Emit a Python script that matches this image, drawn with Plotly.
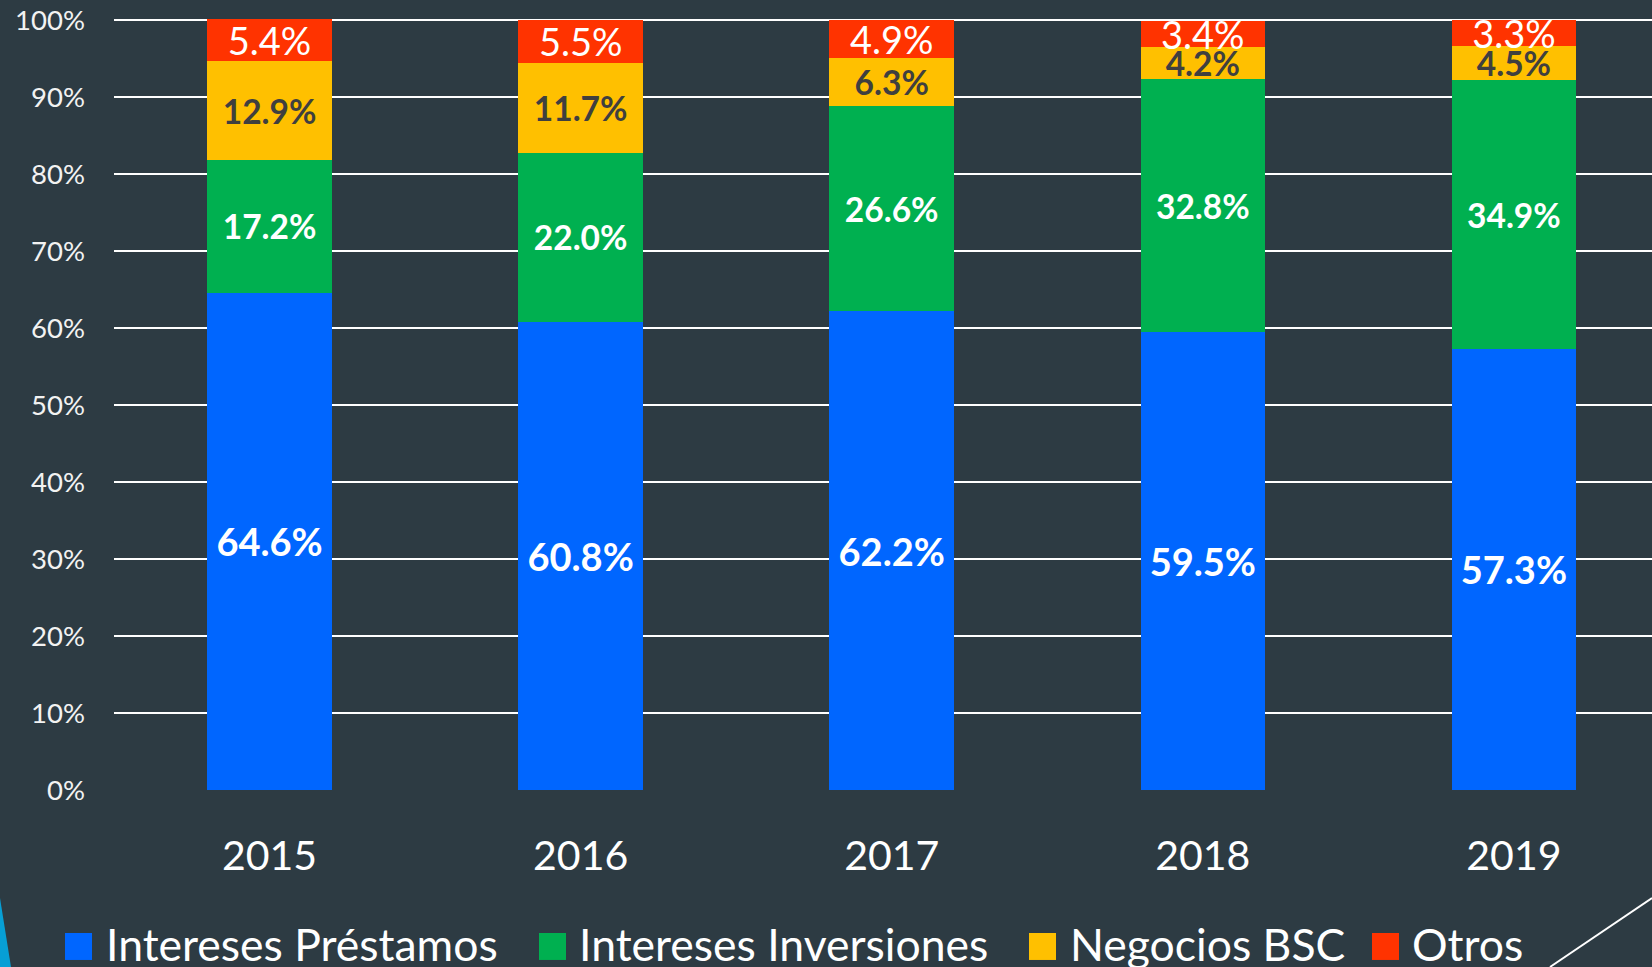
import plotly.graph_objects as go

# ---- data ----
years = ["2015", "2016", "2017", "2018", "2019"]
series_names = ["Intereses Préstamos", "Intereses Inversiones", "Negocios BSC", "Otros"]
prestamos = [64.6, 60.8, 62.2, 59.5, 57.3]
inversiones = [17.2, 22.0, 26.6, 32.8, 34.9]
negocios = [12.9, 11.7, 6.3, 4.2, 4.5]
otros = [5.4, 5.5, 4.9, 3.4, 3.3]
y_ticks = [0, 10, 20, 30, 40, 50, 60, 70, 80, 90, 100]
y_tick_text = [f"{v}%" for v in y_ticks]

series_values = [prestamos, inversiones, negocios, otros]
colors = ["#0066FF", "#00B050", "#FFC000", "#FF3300"]
label_colors = ["#FFFFFF", "#FFFFFF", "#3F3F3F", "#FFFFFF"]
label_sizes = [38, 33.5, 33.5, 38]
label_weights = ["bold", "bold", "bold", "normal"]

W, H = 1652, 967
FONT = "Lato"
BG = "#2D3B43"

# pixel geometry of the plot area (from the reference)
X_LEFT = 114
Y_ZERO_PX, Y_HUNDRED_PX = 790, 20
Y_MAX = 100.15
PH = (Y_ZERO_PX - Y_HUNDRED_PX) * Y_MAX / 100.0
T = Y_ZERO_PX - PH
B = H - Y_ZERO_PX
L, R = X_LEFT, 0
PW = W - L - R


def px_x(px):
    return (px - L) / PW


def px_y(py):
    return (H - B - py) / PH


fig = go.Figure()
for name, vals, col, lc, ls, lw in zip(series_names, series_values, colors,
                                       label_colors, label_sizes, label_weights):
    fig.add_trace(go.Bar(
        x=years, y=vals, name=name,
        marker=dict(color=col, line=dict(width=0)),
        width=0.4,
        texttemplate="%{y:.1f}%",
        textposition="inside",
        insidetextanchor="middle",
        constraintext="none",
        textangle=0,
        textfont=dict(color=lc, size=ls, family=FONT, weight=lw),
        showlegend=False,
        cliponaxis=False,
    ))

# custom legend (large squares like the original)
legend_square_x = [65, 539, 1029, 1372]
legend_text_x = [104, 577, 1068, 1410]
shapes = []
annotations = []
for name, col, sx, tx in zip(series_names, colors, legend_square_x, legend_text_x):
    shapes.append(dict(type="rect", xref="paper", yref="paper",
                       x0=px_x(sx), x1=px_x(sx + 27), y0=px_y(960), y1=px_y(933),
                       fillcolor=col, line=dict(width=0)))
    annotations.append(dict(xref="paper", yref="paper", x=px_x(tx), y=px_y(944),
                            xanchor="left", yanchor="middle", showarrow=False,
                            text=name, font=dict(family=FONT, size=44.5, color="#FFFFFF")))

# decorations
shapes.append(dict(type="path", xref="paper", yref="paper",
                   path=f"M {px_x(0)},{px_y(898)} L {px_x(11)},{px_y(967)} L {px_x(0)},{px_y(967)} Z",
                   fillcolor="#079FD5", line=dict(width=0)))
shapes.append(dict(type="line", xref="paper", yref="paper",
                   x0=px_x(1652), y0=px_y(898), x1=px_x(1550), y1=px_y(967),
                   line=dict(color="#FFFFFF", width=2)))

fig.update_layout(
    barmode="stack",
    width=W, height=H,
    margin=dict(l=L, r=R, t=T, b=B, pad=0),
    paper_bgcolor=BG, plot_bgcolor=BG,
    font=dict(family=FONT, color="#FFFFFF"),
    shapes=shapes,
    annotations=annotations,
    xaxis=dict(range=[-0.5, 4.444], showgrid=False, zeroline=False, showline=False,
               tickfont=dict(size=41, color="#FFFFFF", family=FONT),
               ticks="", ticklabelstandoff=38, fixedrange=True),
    yaxis=dict(range=[0, Y_MAX], tickmode="array", tickvals=y_ticks, ticktext=y_tick_text,
               showgrid=True, gridcolor="#FFFFFF", gridwidth=2,
               zeroline=False, showline=False,
               tickfont=dict(size=27.5, color="#F2F2F2", family=FONT),
               ticks="", ticklabelstandoff=28, fixedrange=True),
)

fig.write_html(
    "out.html",
    config={"displayModeBar": False},
    post_script="document.body.style.margin='0px';document.body.style.background='" + BG + "';",
)
